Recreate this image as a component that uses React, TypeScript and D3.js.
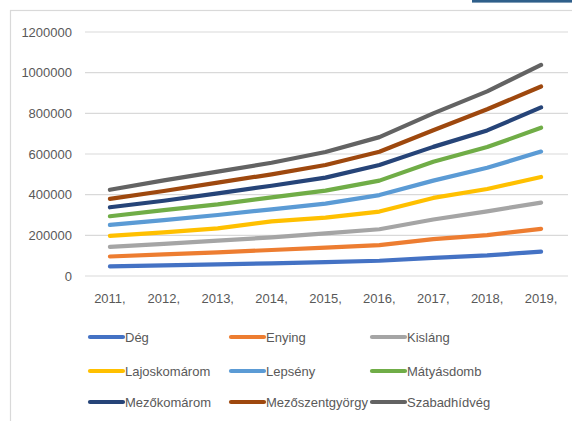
import * as d3 from "d3";
import React from "react";

// chart data
const years = ["2011,", "2012,", "2013,", "2014,", "2015,", "2016,", "2017,", "2018,", "2019,"];
const seriesNames = [
  "Dég", "Enying", "Kisláng",
  "Lajoskomárom", "Lepsény", "Mátyásdomb",
  "Mezőkomárom", "Mezőszentgyörgy", "Szabadhídvég",
];
const deg = [47000, 52000, 57000, 62000, 68000, 75000, 89000, 101000, 120000];
const enying = [96000, 106000, 116000, 128000, 140000, 152000, 181000, 201000, 232000];
const kislang = [143000, 158000, 174000, 190000, 210000, 230000, 278000, 318000, 361000];
const lajoskomarom = [197000, 215000, 234000, 269000, 287000, 317000, 384000, 428000, 487000];
const lepseny = [251000, 275000, 300000, 328000, 356000, 398000, 469000, 532000, 612000];
const matyasdomb = [294000, 324000, 352000, 387000, 420000, 469000, 562000, 634000, 729000];
const mezokomarom = [338000, 370000, 406000, 444000, 484000, 546000, 635000, 716000, 829000];
const mezoszentgyorgy = [379000, 418000, 459000, 500000, 546000, 611000, 717000, 820000, 932000];
const szabadhidveg = [424000, 470000, 513000, 557000, 610000, 683000, 800000, 908000, 1038000];
const seriesValues = [deg, enying, kislang, lajoskomarom, lepseny, matyasdomb, mezokomarom, mezoszentgyorgy, szabadhidveg];
const yTicks = [0, 200000, 400000, 600000, 800000, 1000000, 1200000];

const colors = ["#4472C4", "#ED7D31", "#A5A5A5", "#FFC000", "#5B9BD5", "#70AD47", "#264478", "#9E480E", "#636363"];

const width = 572;
const height = 421;
const margin = { top: 32, right: 4, bottom: 145, left: 83 };
const font = "'Liberation Sans', Arial, sans-serif";
const textColor = "#595959";

const App = () => {
  const x = d3.scaleBand().domain(years).range([margin.left, width - margin.right]);
  const y = d3.scaleLinear().domain([0, 1200000]).range([height - margin.bottom, margin.top]);

  const line = d3
    .line<number>()
    .x((d, i) => (x(years[i]) ?? 0) + x.bandwidth() / 2)
    .y((d) => y(d));

  // legend layout: 3 columns x 3 rows
  const legendX = d3.scaleOrdinal<number, number>().domain([0, 1, 2]).range([90, 231, 372]);
  const legendY = d3.scaleOrdinal<number, number>().domain([0, 1, 2]).range([337, 371, 402]);

  return (
    <svg
      width={width}
      height={height}
      style={{ position: "absolute", left: 0, top: 0, background: "#fff" }}
      fontFamily={font}
    >
      {/* chart frame */}
      <rect x={10.5} y={10.5} width={width} height={height} fill="none" stroke="#d9d9d9" strokeWidth={1.2} />
      <rect x={472} y={0} width={100} height={2.6} fill="#2f5f8a" />

      {/* gridlines and y labels */}
      {yTicks.map((t) => (
        <g key={t}>
          <line x1={85} x2={568} y1={y(t)} y2={y(t)} stroke="#d9d9d9" strokeWidth={1.2} />
          <text x={72} y={y(t)} dy="0.36em" textAnchor="end" fontSize={13} fill={textColor}>
            {t}
          </text>
        </g>
      ))}

      {/* x labels */}
      {years.map((yr) => (
        <text
          key={yr}
          x={(x(yr) ?? 0) + x.bandwidth() / 2}
          y={303}
          textAnchor="middle"
          fontSize={13}
          fill={textColor}
        >
          {yr}
        </text>
      ))}

      {/* series lines */}
      {seriesValues.map((vals, i) => (
        <path
          key={seriesNames[i]}
          d={line(vals) ?? ""}
          fill="none"
          stroke={colors[i]}
          strokeWidth={4.2}
          strokeLinecap="round"
          strokeLinejoin="round"
        />
      ))}

      {/* legend */}
      {seriesNames.map((name, i) => {
        const lx = legendX(i % 3);
        const ly = legendY(Math.floor(i / 3));
        return (
          <g key={name}>
            <line x1={lx} x2={lx + 33} y1={ly} y2={ly} stroke={colors[i]} strokeWidth={4.2} strokeLinecap="round" />
            <text x={lx + 35} y={ly} dy="0.36em" fontSize={13} fill={textColor}>
              {name}
            </text>
          </g>
        );
      })}
    </svg>
  );
};

export default App;
